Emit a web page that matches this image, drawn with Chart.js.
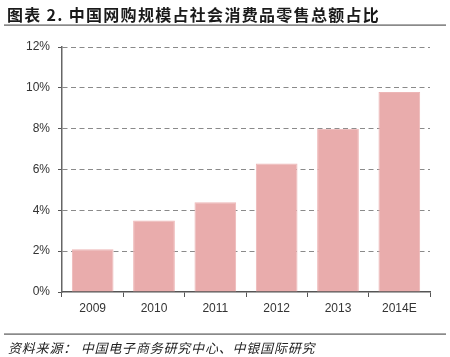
<!DOCTYPE html>
<html>
<head>
<meta charset="utf-8">
<script src="https://cdn.jsdelivr.net/npm/chart.js@4/dist/chart.umd.min.js"></script>
<style>
  html, body { margin: 0; padding: 0; background: #fff; }
  #wrap { position: relative; width: 450px; height: 357px; overflow: hidden; }
  #title { position: absolute; left: 7px; top: 2px; font-family: "Noto Sans CJK SC", sans-serif; font-weight: bold; font-size: 16px; letter-spacing: 1.3px; color: #1a1a1a; white-space: nowrap; }
  .rule { position: absolute; left: 4px; width: 442px; height: 1px; background: #8a8a8a; border-top: 1px solid #aaa; }
  #foot { position: absolute; left: 8px; top: 338px; font-family: "Noto Sans CJK SC", sans-serif; font-style: italic; font-size: 13px; letter-spacing: 0.8px; color: #222; white-space: nowrap; }
  canvas { position: absolute; left: 0; top: 0; }
</style>
</head>
<body>
<div id="wrap">
  <canvas id="c" width="450" height="357"></canvas>
  <div id="title">图表 2. 中国网购规模占社会消费品零售总额占比</div>
  <div class="rule" style="top:24px"></div>
  <div class="rule" style="top:333px"></div>
  <div id="foot">资料来源： 中国电子商务研究中心、中银国际研究</div>
</div>
<script>
const categories = ["2009", "2010", "2011", "2012", "2013", "2014E"];
const shareValues = [2.1, 3.5, 4.4, 6.3, 8.0, 9.8];
const yTicks = [0, 2, 4, 6, 8, 10, 12];

const tickFont = { family: "'Liberation Sans Narrow', 'Liberation Sans', Arial, sans-serif", size: 12 };

new Chart(document.getElementById('c'), {
  type: 'bar',
  data: {
    labels: categories,
    datasets: [{
      data: shareValues,
      backgroundColor: '#E9ACAC',
      borderColor: '#EDB6B6',
      borderWidth: 1,
      categoryPercentage: 1,
      barPercentage: 0.68
    }]
  },
  options: {
    responsive: false,
    animation: false,
    layout: { padding: { left: 0, right: 20, top: 47, bottom: 0 } },
    plugins: { legend: { display: false }, tooltip: { enabled: false }, title: { display: false } },
    scales: {
      x: {
        grid: { display: true, offset: true, drawOnChartArea: false, drawTicks: true, tickLength: 5, color: '#555', lineWidth: 1 },
        border: { display: true, color: '#555', width: 1.5 },
        ticks: { color: '#333', font: tickFont, padding: 4 },
        afterFit(scale) { scale.height = 65; }
      },
      y: {
        min: 0, max: 12,
        afterBuildTicks(scale) { scale.ticks = yTicks.map(v => ({ value: v })); },
        grid: {
          drawTicks: true, tickLength: 4,
          color: ctx => (ctx.tick && ctx.tick.value === 0) ? 'rgba(0,0,0,0)' : '#8a8a8a',
          tickColor: '#555',
          lineWidth: 1
        },
        border: { display: true, color: '#666', width: 1.5, dash: [5, 3.5] },
        ticks: { color: '#333', font: tickFont, padding: 8, callback: v => v + '%' },
        afterFit(scale) { scale.width = 62; }
      }
    }
  }
});
</script>
</body>
</html>
